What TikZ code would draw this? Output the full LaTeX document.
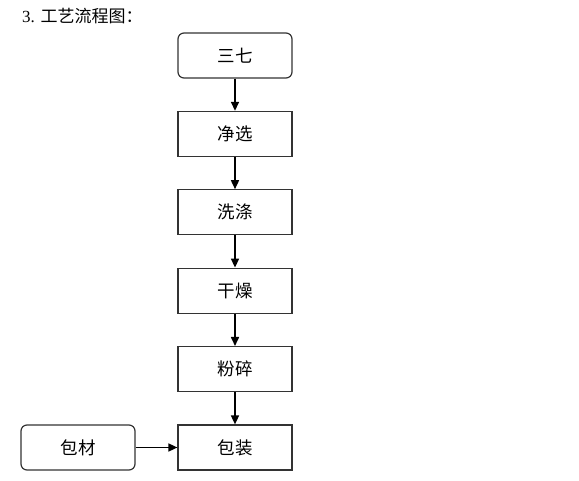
\documentclass[tikz,border=0pt]{standalone}
\usepackage{fontspec}
\setmainfont{Liberation Serif}
\newfontfamily\cjk{Noto Sans CJK SC}
\usetikzlibrary{arrows.meta,positioning}

\begin{document}
\begin{tikzpicture}[
    x=1pt, y=-1pt,
    font=\fontsize{17}{19}\selectfont,
    node distance=32.2pt and 41.8pt,
    stepbox/.style={rectangle, draw=black!80, line width=1.2pt,
      minimum width=114pt, minimum height=45pt, align=center,
      font=\fontsize{17.5}{19}\selectfont\cjk},
    rbox/.style={stepbox, rounded corners=6pt},
    arr/.style={-{Triangle[length=9pt, width=8pt]}, line width=1.6pt, draw=black}
  ]
    \useasboundingbox (0,0) rectangle (579,481);

    \node[anchor=west, inner sep=0pt] (title) at (22,16) {3. {\cjk 工艺流程图：}};

    \node[rbox] (sanqi) at (235,55.5) {三七};
    \node[stepbox, below=of sanqi] (jingxuan) {净选};
    \node[stepbox, below=of jingxuan] (xidi) {洗涤};
    \node[stepbox, below=of xidi] (ganzao) {干燥};
    \node[stepbox, below=of ganzao] (fensui) {粉碎};
    \node[stepbox, below=of fensui] (baozhuang) {包装};
    \node[rbox, left=of baozhuang] (baocai) {包材};

    \draw[arr] (sanqi) -- (jingxuan);
    \draw[arr] (jingxuan) -- (xidi);
    \draw[arr] (xidi) -- (ganzao);
    \draw[arr] (ganzao) -- (fensui);
    \draw[arr] (fensui) -- (baozhuang);
    \draw[arr] (baocai) -- (baozhuang);
  \end{tikzpicture}
\end{document}
